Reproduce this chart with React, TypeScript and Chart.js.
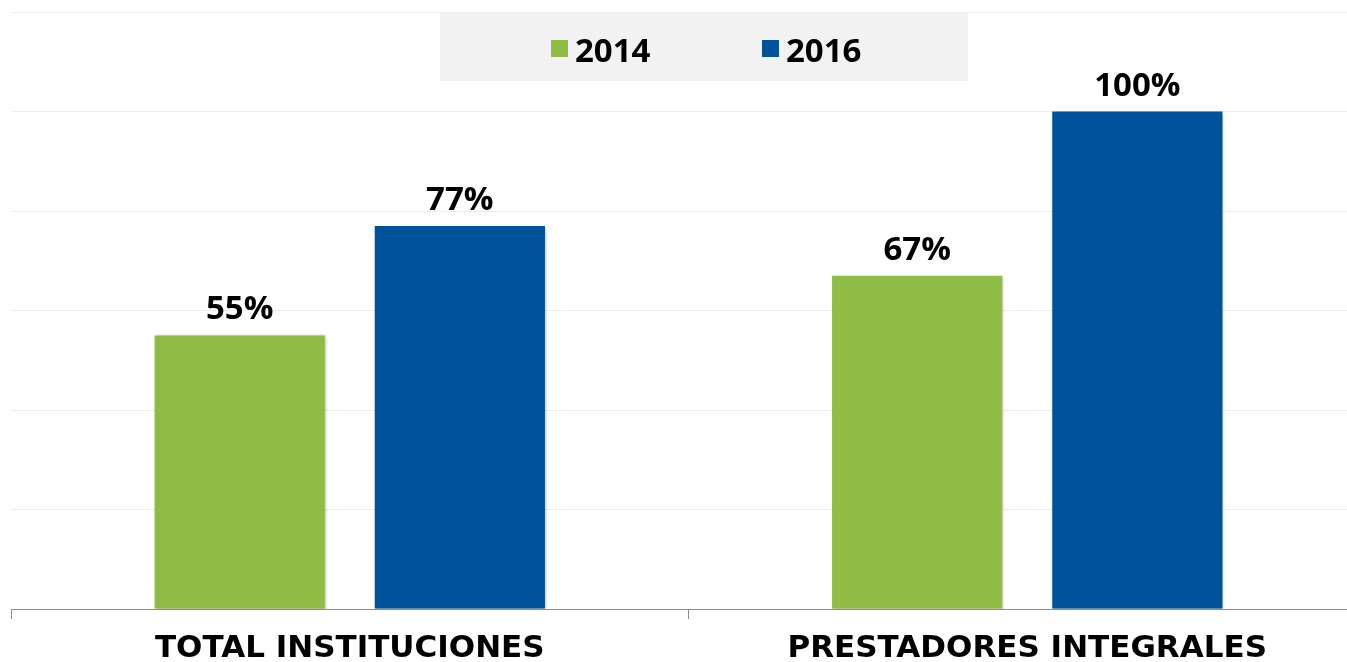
import React, { useEffect, useRef } from "react";
import { Chart, registerables } from "chart.js";

Chart.register(...registerables);

const CATEGORIES = ["TOTAL INSTITUCIONES", "PRESTADORES INTEGRALES"];
const SERIES_LABELS = ["2014", "2016"];
const VALUES_2014 = [55, 67];
const VALUES_2016 = [77, 100];
const COLORS = ["#8fbc44", "#00529b"];
const Y_MAX = 120;
const Y_STEP = 20;

const NUM_FONT = "bold 33px 'Open Sans'";

const shadowPlugin = {
  id: "barShadow",
  beforeDatasetsDraw(chart: any) {
    const ctx = chart.ctx;
    ctx.save();
    ctx.shadowColor = "rgba(0,0,0,0.3)";
    ctx.shadowBlur = 3;
    ctx.shadowOffsetX = 1;
    ctx.shadowOffsetY = 1;
  },
  afterDatasetsDraw(chart: any) {
    chart.ctx.restore();
  },
};

const labelsPlugin = {
  id: "valueLabels",
  afterDraw(chart: any) {
    const ctx = chart.ctx;
    ctx.save();
    ctx.font = NUM_FONT;
    ctx.fillStyle = "#000";
    ctx.textAlign = "center";
    ctx.textBaseline = "alphabetic";
    chart.data.datasets.forEach((ds: any, di: number) => {
      const meta = chart.getDatasetMeta(di);
      meta.data.forEach((bar: any, i: number) => {
        ctx.fillText(ds.data[i] + "%", bar.x, bar.y - 16);
      });
    });
    ctx.restore();
  },
};

const legendPlugin = {
  id: "boxLegend",
  afterDraw(chart: any) {
    const ctx = chart.ctx;
    const a = chart.chartArea;
    const bx = a.left + 429;
    const by = a.top + 1;
    ctx.save();
    ctx.fillStyle = "#f2f2f2";
    ctx.fillRect(bx, by, 528, 68);
    const itemX = [bx + 111, bx + 322];
    chart.data.datasets.forEach((ds: any, di: number) => {
      const x = itemX[di];
      ctx.fillStyle = ds.backgroundColor;
      ctx.fillRect(x, by + 27, 17, 17);
      ctx.fillStyle = "#000";
      ctx.font = NUM_FONT;
      ctx.textAlign = "left";
      ctx.textBaseline = "alphabetic";
      ctx.fillText(ds.label, x + 24, by + 49);
    });
    ctx.restore();
  },
};

export default function App() {
  const ref = useRef<HTMLCanvasElement>(null);
  useEffect(() => {
    if (!ref.current) return;
    const chart = new Chart(ref.current, {
      type: "bar",
      data: {
        labels: CATEGORIES,
        datasets: [
          { label: SERIES_LABELS[0], data: VALUES_2014, backgroundColor: COLORS[0] },
          { label: SERIES_LABELS[1], data: VALUES_2016, backgroundColor: COLORS[1] },
        ],
      },
      options: {
        animation: false,
        responsive: false,
        maintainAspectRatio: false,
        layout: { padding: { left: 11, top: 12, right: 0, bottom: 0 } },
        datasets: { bar: { categoryPercentage: 0.65, barPercentage: 0.773 } },
        plugins: { legend: { display: false }, tooltip: { enabled: false } },
        scales: {
          x: {
            offset: true,
            grid: { offset: true, drawOnChartArea: false, drawTicks: true, tickLength: 10, color: "#8c8c8c" },
            border: { display: true, color: "#8c8c8c", width: 1 },
            ticks: {
              color: "#000",
              padding: 11,
              font: { family: "'DejaVu Sans'", weight: "bold", size: 31 },
            },
            afterFit(scale: any) {
              scale.height = 53;
            },
          },
          y: {
            min: 0,
            max: Y_MAX,
            ticks: { display: false, stepSize: Y_STEP },
            grid: { color: "#ececec", drawTicks: false },
            border: { display: false },
            afterFit(scale: any) {
              scale.width = 0;
            },
          },
        },
      } as any,
      plugins: [shadowPlugin, labelsPlugin, legendPlugin],
    });
    return () => chart.destroy();
  }, []);
  return (
    <div
      style={{
        position: "fixed",
        left: 0,
        top: 0,
        width: 1347,
        height: 662,
        overflow: "hidden",
        background: "#fff",
      }}
    >
      <canvas ref={ref} width={1366} height={662} style={{ display: "block", width: 1366, height: 662 }} />
    </div>
  );
}
